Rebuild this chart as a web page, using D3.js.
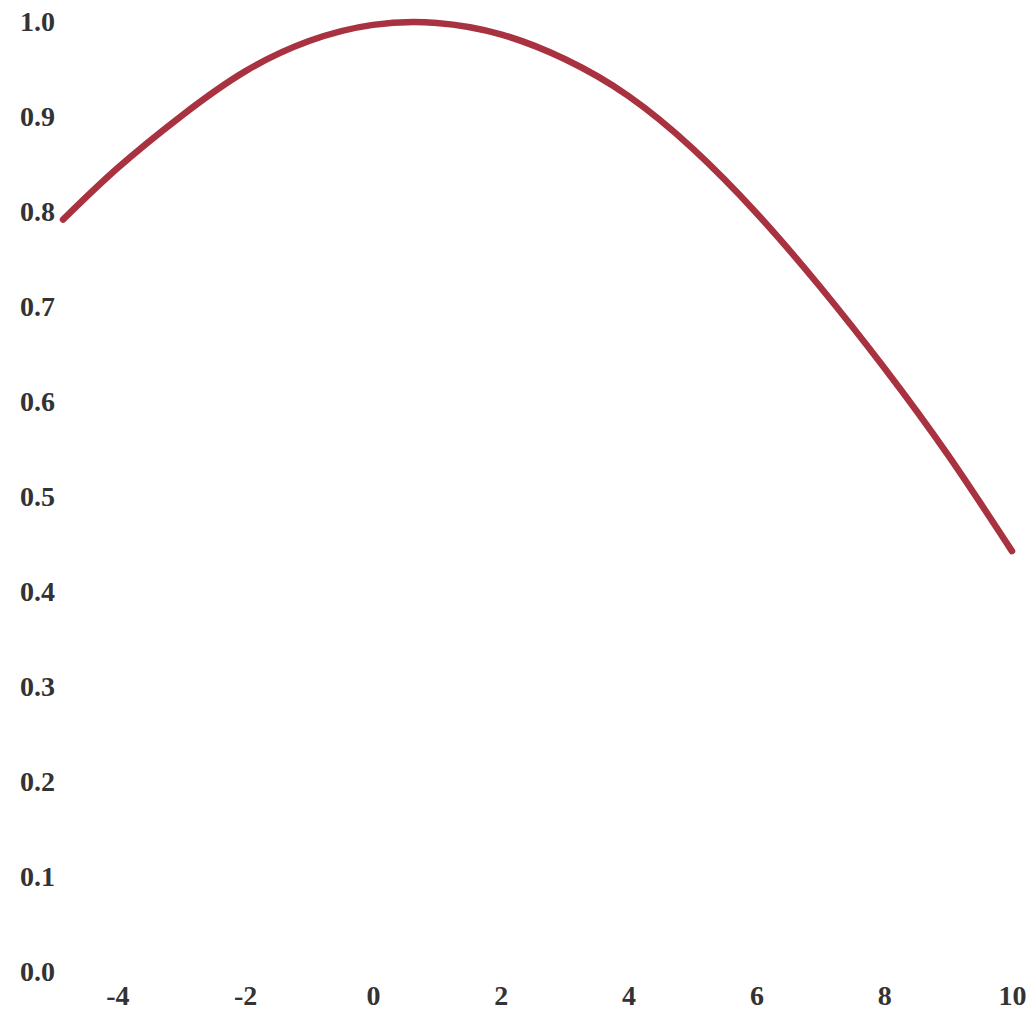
<!DOCTYPE html>
<html>
<head>
<meta charset="utf-8">
<script src="https://cdn.jsdelivr.net/npm/d3@7"></script>
<style>
  body { margin: 0; background: #fff; }
</style>
</head>
<body>
<script>
// values
var xs = [-4.85, -4, -3, -2, -1, 0, 1, 2, 3, 4, 5, 6, 7, 8, 9, 10];
var ys = [0.792, 0.846, 0.901, 0.948, 0.980, 0.997, 0.999, 0.987, 0.961, 0.922, 0.867, 0.799, 0.721, 0.636, 0.544, 0.443];
var xTicks = [-4, -2, 0, 2, 4, 6, 8, 10];
var yTicks = [0, 0.1, 0.2, 0.3, 0.4, 0.5, 0.6, 0.7, 0.8, 0.9, 1.0];

var w = 1034, h = 1017;

var svg = d3.select("body").append("svg")
  .attr("width", w)
  .attr("height", h)
  .attr("font-family", "'Liberation Serif', serif")
  .attr("font-size", "28px")
  .attr("font-weight", "bold");

var data = xs.map(function(d, i) { return {x: d, y: ys[i]}; });

var x = d3.scaleLinear()
  .domain(d3.extent(xs))
  .range([63, 1012]);

var y = d3.scaleLinear()
  .domain([0, 1])
  .range([972, 22]);

// x axis: labels only, plain hyphen for negatives
var xAxis = svg.append("g")
  .attr("transform", "translate(0,985)")
  .call(d3.axisBottom(x).tickValues(xTicks).tickFormat(function(d) { return String(d); })
    .tickSize(0).tickPadding(0));
xAxis.select(".domain").remove();
xAxis.selectAll("text")
  .attr("font-family", "'Liberation Serif', serif")
  .attr("font-size", "28px")
  .attr("fill", "#333")
  .attr("dy", "0.71em");

// y axis: labels only
var yAxis = svg.append("g")
  .attr("transform", "translate(55,0)")
  .call(d3.axisLeft(y).tickValues(yTicks).tickFormat(d3.format(".1f")).tickSize(0).tickPadding(0));
yAxis.select(".domain").remove();
yAxis.selectAll("text")
  .attr("font-family", "'Liberation Serif', serif")
  .attr("font-size", "28px")
  .attr("fill", "#333");

var line = d3.line()
  .x(function(d) { return x(d.x); })
  .y(function(d) { return y(d.y); })
  .curve(d3.curveNatural);

svg.append("path")
  .datum(data)
  .attr("fill", "none")
  .attr("stroke", "#a8323f")
  .attr("stroke-width", 6.5)
  .attr("stroke-linecap", "round")
  .attr("d", line);
</script>
</body>
</html>
